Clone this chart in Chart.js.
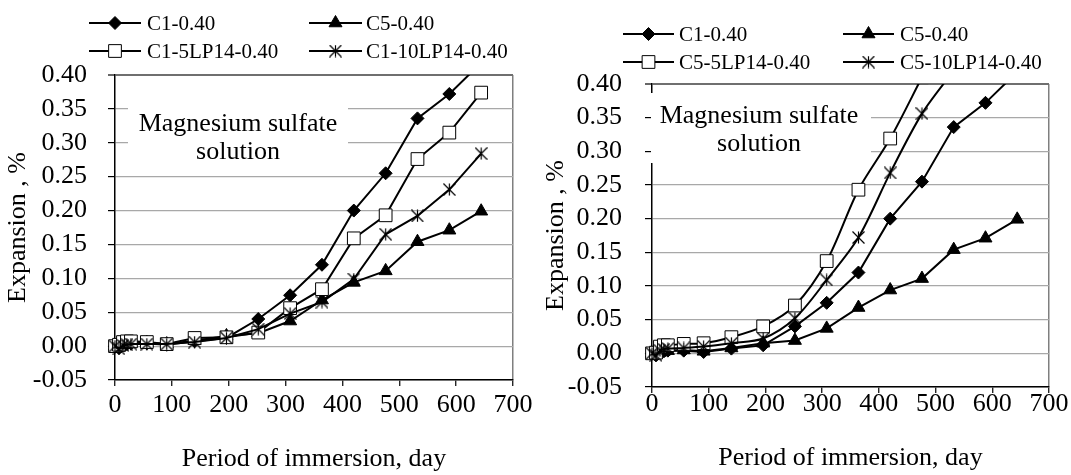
<!DOCTYPE html>
<html><head><meta charset="utf-8">
<script src="https://cdn.jsdelivr.net/npm/chart.js@4.4.1/dist/chart.umd.min.js"></script>
<style>
html,body{margin:0;padding:0;background:#fff;}
#wrap{position:relative;width:1071px;height:475px;overflow:hidden;background:#fff;}
#left{position:absolute;left:0;top:0;}
#right{position:absolute;left:540px;top:0;}
</style></head><body>
<div id="wrap"><canvas id="left" width="540" height="475"></canvas><canvas id="right" width="531" height="475"></canvas></div>
<script>
// ---- data ----
const days = [0, 7, 14, 21, 28, 56, 91, 140, 196, 252, 308, 364, 420, 476, 532, 588, 644];
const xTicks = [0, 100, 200, 300, 400, 500, 600, 700];
const yTicks = [-0.05, 0.00, 0.05, 0.10, 0.15, 0.20, 0.25, 0.30, 0.35, 0.40];

const C1_040      = [0, -0.003, 0.003, 0.003, 0.004, 0.004, 0.002, 0.007, 0.012, 0.040, 0.075, 0.120, 0.200, 0.255, 0.336, 0.372, 0.418];
const C5_040      = [0, -0.002, 0.002, 0.003, 0.004, 0.005, 0.003, 0.008, 0.015, 0.019, 0.037, 0.068, 0.094, 0.111, 0.154, 0.171, 0.199];
const C1_5LP14    = [0, 0.002, 0.006, 0.007, 0.007, 0.006, 0.003, 0.012, 0.013, 0.020, 0.056, 0.084, 0.159, 0.193, 0.276, 0.315, 0.374];
const C1_10LP14   = [0, -0.004, 0.001, 0.002, 0.003, 0.003, 0.003, 0.006, 0.012, 0.025, 0.048, 0.065, 0.099, 0.165, 0.192, 0.231, 0.284];
const C5_5LP14    = [0, 0.001, 0.010, 0.012, 0.012, 0.014, 0.015, 0.024, 0.040, 0.071, 0.137, 0.243, 0.319, 0.410];
const C5_10LP14   = [0, -0.003, 0.004, 0.006, 0.007, 0.008, 0.010, 0.015, 0.022, 0.052, 0.109, 0.172, 0.268, 0.356, 0.420];

const leftLabels  = ['C1-0.40', 'C5-0.40', 'C1-5LP14-0.40', 'C1-10LP14-0.40'];
const rightLabels = ['C1-0.40', 'C5-0.40', 'C5-5LP14-0.40', 'C5-10LP14-0.40'];
const noteLines = ['Magnesium sulfate', 'solution'];
const xTitle = 'Period of immersion, day';
const yTitle = 'Expansion , %';

// ---- styles ----
const FONT = "'Liberation Serif', 'Times New Roman', serif";
const FS = 26;
function makeStar(size) {
  const c = document.createElement('canvas');
  c.width = c.height = size;
  const g = c.getContext('2d');
  const m = size / 2, r = size / 2 - 0.5;
  g.strokeStyle = '#000'; g.lineWidth = 1.2;
  g.beginPath();
  g.moveTo(m - r, m - r); g.lineTo(m + r, m + r);
  g.moveTo(m + r, m - r); g.lineTo(m - r, m + r);
  g.moveTo(m, m - r); g.lineTo(m, m + r);
  g.stroke();
  return c;
}
const starImg = makeStar(13);
const markerStyles = [
  {pointStyle: 'rectRot', pointRadius: 6.5, bg: '#000'},
  {pointStyle: 'triangle', pointRadius: 7.5, bg: '#000'},
  {pointStyle: 'rect', pointRadius: 9, bg: '#fff'},
  {pointStyle: starImg, pointRadius: 6.5, bg: '#000'}
];

function pts(vals) { return vals.map((v, i) => ({x: days[i], y: v})); }

function makeDatasets(labels, series, tensions) {
  return series.map((vals, i) => ({
    label: labels[i],
    data: pts(vals),
    borderColor: '#000',
    borderWidth: 2,
    tension: tensions[i],
    pointStyle: markerStyles[i].pointStyle,
    pointRadius: markerStyles[i].pointRadius,
    pointHoverRadius: markerStyles[i].pointRadius,
    pointBackgroundColor: markerStyles[i].bg,
    pointBorderColor: '#000',
    pointBorderWidth: 1,
    order: series.length - 1 - i,
    clip: {left: 12, right: 12, top: 0, bottom: 12}
  }));
}

const legendPlugin = {
  id: 'gridLegend',
  afterDraw(chart, args, opts) {
    const ctx = chart.ctx;
    chart.data.datasets.forEach((ds, i) => {
      const col = i % 2, row = Math.floor(i / 2);
      const x0 = opts.cols[col].x0, x1 = opts.cols[col].x1, tx = opts.cols[col].tx;
      const y = opts.rows[row];
      ctx.save();
      ctx.strokeStyle = '#000'; ctx.lineWidth = 2;
      ctx.beginPath(); ctx.moveTo(x0, y); ctx.lineTo(x1, y); ctx.stroke();
      ctx.fillStyle = ds.pointBackgroundColor; ctx.strokeStyle = '#000'; ctx.lineWidth = 1;
      Chart.helpers.drawPoint(ctx, {pointStyle: ds.pointStyle, radius: ds.pointRadius, rotation: 0, borderWidth: 1}, (x0 + x1) / 2, y);
      ctx.fillStyle = '#000';
      ctx.font = opts.fontSize + 'px ' + FONT;
      ctx.textAlign = 'left'; ctx.textBaseline = 'middle';
      ctx.fillText(ds.label, tx, y + 1);
      ctx.restore();
    });
  }
};

const notePlugin = {
  id: 'noteBox',
  beforeDatasetsDraw(chart, args, opts) {
    const ctx = chart.ctx;
    ctx.save();
    ctx.fillStyle = '#fff';
    ctx.fillRect(opts.x, opts.y, opts.w, opts.h);
    ctx.fillStyle = '#000';
    ctx.font = opts.fontSize + 'px ' + FONT;
    ctx.textAlign = 'center'; ctx.textBaseline = 'middle';
    noteLines.forEach((t, i) => ctx.fillText(t, opts.cx, opts.lineY[i]));
    ctx.restore();
  }
};

function build(canvasId, labels, series, tensions, g) {
  return new Chart(document.getElementById(canvasId), {
    type: 'line',
    data: {datasets: makeDatasets(labels, series, tensions)},
    plugins: [notePlugin, legendPlugin],
    options: {
      responsive: false,
      animation: false,
      events: [],
      layout: {padding: {top: g.top, right: g.right, left: 0, bottom: 0}},
      plugins: {
        legend: {display: false},
        tooltip: {enabled: false},
        gridLegend: g.legend,
        noteBox: g.note
      },
      scales: {
        x: {
          type: 'linear', min: 0, max: 700,
          afterBuildTicks: s => { s.ticks = xTicks.map(v => ({value: v})); },
          afterFit: s => { s.height = g.xh; },
          ticks: {color: '#000', font: {family: FONT, size: FS}, padding: g.xtp, maxRotation: 0, autoSkip: false},
          grid: {
            drawOnChartArea: true,
            color: c => (c.tick && c.tick.value === 700) ? '#7f7f7f' : 'rgba(0,0,0,0)',
            lineWidth: 1.5,
            tickColor: '#000', tickLength: 6, tickWidth: 1.2
          },
          border: {display: true, color: '#000', width: 1.5},
          title: {display: true, text: xTitle, color: '#000', font: {family: FONT, size: FS}, padding: {top: 0, bottom: g.xtpb}}
        },
        y: {
          type: 'linear', min: -0.05, max: 0.40,
          afterBuildTicks: s => { s.ticks = yTicks.map(v => ({value: v})); },
          afterFit: s => { s.width = g.yw; },
          ticks: {color: '#000', font: {family: FONT, size: FS}, padding: g.ytp, autoSkip: false, callback: v => v.toFixed(2)},
          grid: {
            color: c => (c.tick && Math.abs(c.tick.value - 0.40) < 1e-9) ? '#6f6f6f' : '#a8a8a8',
            lineWidth: c => (c.tick && Math.abs(c.tick.value - 0.40) < 1e-9) ? 2 : 1.2,
            tickColor: '#000', tickLength: 7, tickWidth: 1.2
          },
          border: {display: true, color: '#000', width: 1.5},
          title: {display: true, text: yTitle, color: '#000', font: {family: FONT, size: FS}, padding: {top: g.ytpt, bottom: 0}}
        }
      }
    }
  });
}

build('left', leftLabels, [C1_040, C5_040, C1_5LP14, C1_10LP14], [0, 0, 0, 0], {
  top: 75, right: 27, xh: 95, yw: 115, ytp: 21, xtp: 4, xtpb: 0, ytpt: 3,
  legend: {fontSize: 21, rows: [23, 51], cols: [{x0: 89, x1: 141, tx: 147}, {x0: 309, x1: 362, tx: 366}]},
  note: {x: 128, y: 96, w: 220, h: 64, cx: 238, lineY: [124, 152], fontSize: FS}
});
build('right', rightLabels, [C1_040, C5_040, C5_5LP14, C5_10LP14], [0, 0, 0.3, 0.3], {
  top: 84, right: 22, xh: 88, yw: 112, ytp: 23, xtp: -4, xtpb: 1, ytpt: 1,
  legend: {fontSize: 21, rows: [34, 62], cols: [{x0: 83, x1: 134, tx: 139}, {x0: 303, x1: 354, tx: 360}]},
  note: {x: 111, y: 93, w: 220, h: 70, cx: 219, lineY: [116, 144], fontSize: FS}
});
</script>
</body></html>
